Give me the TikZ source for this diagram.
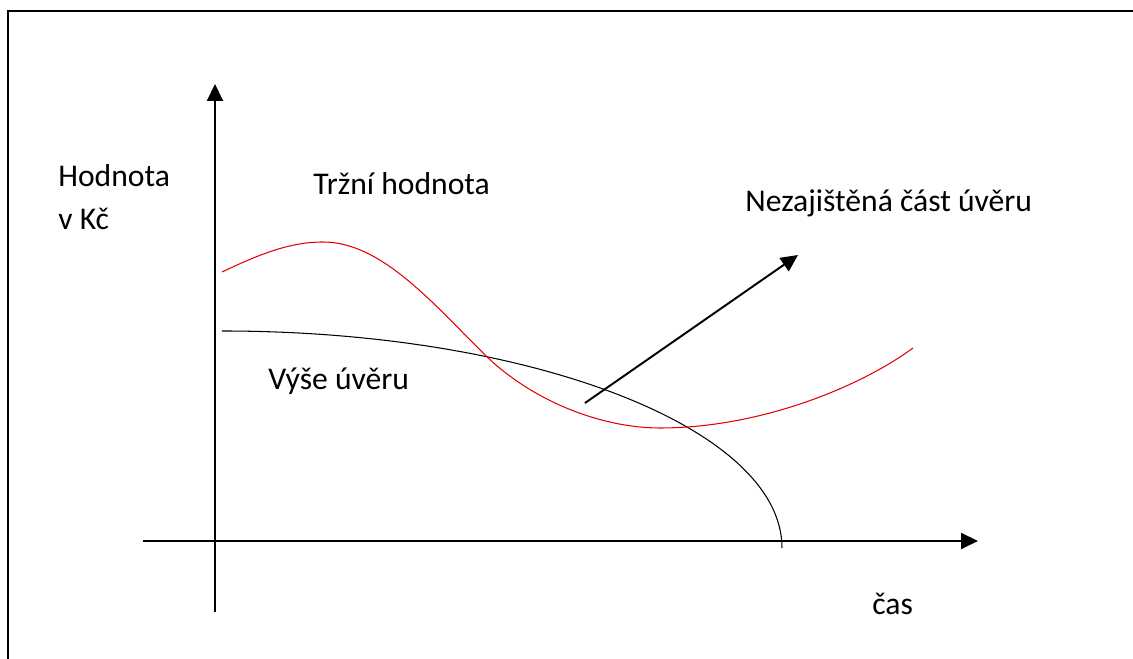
\documentclass[tikz,border=0pt]{standalone}
\usepackage{fontspec}
\setmainfont{Carlito}
\usetikzlibrary{arrows.meta}

\tikzset{
  axis/.style = {line width=1.1pt, -{Triangle[length=0.34cm, width=0.32cm]}},
  lbl/.style = {font=\fontsize{18}{22}\selectfont, inner sep=0pt},
}

\begin{document}
\begin{tikzpicture}[x=0.02cm, y=0.02cm]
\useasboundingbox (0,0) rectangle (1133,659);
% frame
\draw[line width=1.1pt] (8,0) -- (8,648) -- (1133,648);
% axes
\coordinate (ybot) at (215,47);
\coordinate (ytop) at (215,575);
\coordinate (xleft) at (143,118);
\coordinate (xright) at (978,118);
\draw[axis] (ybot) -- (ytop);
\draw[axis] (xleft) -- (xright);
% loan
\draw[line width=0.6pt] (222,328) arc[start angle=90, end angle=0, x radius=560, y radius=217];
% market value
\draw[red!90!black, line width=0.6pt] (222,387) .. controls (260,405) and (290,417) .. (323,417)
  .. controls (380,417) and (430,359) .. (483,306)
  .. controls (530,259) and (600,231) .. (660,231)
  .. controls (760,231) and (860,272) .. (913,311);
% unsecured part
\coordinate (ustart) at (585,256);
\coordinate (uend) at (798,404);
\draw[axis] (ustart) -- (uend);
\node[lbl, anchor=base west] (hodnota) at (58,472) {Hodnota};
\node[lbl, anchor=base west] (vkc) at (58,429) {v Kč};
\node[lbl, anchor=base west] (trzni) at (313,464) {Tržní hodnota};
\node[lbl, anchor=base west] (nezajist) at (745,447) {Nezajištěná část úvěru};
\node[lbl, anchor=base west] (vyse) at (268,269) {Výše úvěru};
\node[lbl, anchor=base west] (cas) at (872,44) {čas};
\end{tikzpicture}
\end{document}
